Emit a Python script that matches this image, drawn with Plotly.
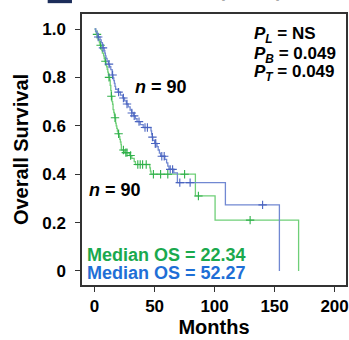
import plotly.graph_objects as go
from bisect import bisect_right

# ---------------- data ----------------
blue_t = [0, 1, 2, 3, 4.5, 5.5, 6.5, 7, 8, 8.5, 9, 9.5, 10.4, 11.5, 12.5, 13.5, 14.6,
          15.3, 16, 16.5, 17, 17.5, 19.5, 21.5, 23.5, 25, 26.5, 28, 29.6, 31, 32.5, 34,
          35.4, 38, 40.5, 47, 47.5, 48, 48.5, 50, 52, 53, 54, 55, 58.5, 60, 61, 62, 66,
          69, 109, 154]
blue_s = [1.0, 0.989, 0.978, 0.967, 0.955, 0.944, 0.933, 0.922, 0.911, 0.9, 0.889, 0.878,
          0.866, 0.855, 0.844, 0.832, 0.81, 0.798, 0.787, 0.775, 0.763, 0.751, 0.739,
          0.727, 0.715, 0.703, 0.69, 0.678, 0.665, 0.653, 0.641, 0.629, 0.617, 0.605,
          0.593, 0.579, 0.566, 0.553, 0.54, 0.527, 0.514, 0.5, 0.487, 0.474, 0.461,
          0.447, 0.433, 0.42, 0.405, 0.365, 0.273, 0.0]
blue_cens = [3, 7, 12, 15, 20, 24, 27, 31, 33, 37, 42, 44, 48.2, 50.5, 51, 56, 58, 63,
             65, 71, 79.6, 140]

green_t = [0, 0.8, 1.5, 2.5, 3, 4, 4.5, 5.5, 6, 6.5, 7.5, 8, 8.75, 9.5, 10, 10.5, 11,
           11.5, 12, 12.5, 13, 13.5, 14, 14.5, 15, 15.4, 16, 16.5, 17, 17.5, 18, 18.5,
           19, 19.6, 20.5, 21, 21.5, 22, 22.3, 25, 29, 31, 33, 34, 46, 46.5, 47, 84,
           100.4, 170]
green_s = [1.0, 0.989, 0.978, 0.967, 0.956, 0.944, 0.933, 0.922, 0.911, 0.9, 0.889,
           0.878, 0.867, 0.855, 0.844, 0.833, 0.822, 0.811, 0.8, 0.789, 0.767, 0.745,
           0.722, 0.7, 0.689, 0.667, 0.655, 0.644, 0.633, 0.611, 0.6, 0.589, 0.578,
           0.567, 0.555, 0.544, 0.533, 0.522, 0.5, 0.489, 0.477, 0.465, 0.452, 0.44,
           0.426, 0.413, 0.40, 0.31, 0.21, 0.0]
green_cens = [2, 5, 9, 12, 14, 17, 20, 24, 26, 27, 30, 36, 38, 40, 43, 49, 55, 61,
              75, 86.5, 129.6]

x_ticks = [0, 50, 100, 150, 200]
y_ticks = [0, 0.2, 0.4, 0.6, 0.8, 1.0]
y_ticklabels = ["0", "0.2", "0.4", "0.6", "0.8", "1.0"]

median_green = "22.34"
median_blue = "52.27"

# ---------------- styles ----------------
FONT = "Arial, Liberation Sans, sans-serif"
BLUE_LINE = "#7188d2"
BLUE_MARK = "#4a64c0"
GREEN_LINE = "#6fcf78"
GREEN_MARK = "#2fb04a"
BLUE_TXT = "#1f6fd6"
GREEN_TXT = "#1aa94e"


def surv_at(ts, ss, t):
    i = bisect_right(ts, t) - 1
    return ss[max(i, 0)]


fig = go.Figure()

for ts, ss, cens, lc, mc in [(green_t, green_s, green_cens, GREEN_LINE, GREEN_MARK),
                              (blue_t, blue_s, blue_cens, BLUE_LINE, BLUE_MARK)]:
    fig.add_trace(go.Scatter(x=ts, y=ss, mode="lines", line=dict(color=lc, width=1.3, shape="hv"),
                             hoverinfo="skip", showlegend=False))
    fig.add_trace(go.Scatter(x=cens, y=[surv_at(ts, ss, c) for c in cens], mode="markers",
                             marker=dict(symbol="cross-thin", size=6,
                                         line=dict(color=mc, width=1.1)),
                             showlegend=False))

ann_font = dict(family=FONT, size=18, color="black", weight="bold")
p_font = dict(family=FONT, size=17, color="black", weight="bold")
anns = [
    dict(x=0.301, y=0.73, text="<i>n</i> = 90", xanchor="center", yanchor="middle", font=ann_font),
    dict(x=0.125, y=0.35, text="<i>n</i> = 90", xanchor="center", yanchor="middle", font=ann_font),
    dict(x=0.644, y=0.9225, text="<i>P</i><sub><i>L</i></sub> = NS", xanchor="left", yanchor="middle", font=p_font),
    dict(x=0.644, y=0.849, text="<i>P</i><sub><i>B</i></sub> = 0.049", xanchor="left", yanchor="middle", font=p_font),
    dict(x=0.644, y=0.782, text="<i>P</i><sub><i>T</i></sub> = 0.049", xanchor="left", yanchor="middle", font=p_font),
    dict(x=0.012, y=0.109, text="Median OS = " + median_green, xanchor="left", yanchor="middle",
         font=dict(family=FONT, size=18, color=GREEN_TXT, weight="bold")),
    dict(x=0.012, y=0.044, text="Median OS = " + median_blue, xanchor="left", yanchor="middle",
         font=dict(family=FONT, size=18, color=BLUE_TXT, weight="bold")),
]
for a in anns:
    fig.add_annotation(xref="paper", yref="paper", showarrow=False, **a)

# cut-off header at the very top
fig.add_shape(type="rect", xref="paper", yref="paper", x0=-0.13, x1=-0.038, y0=1.04, y1=1.1,
              fillcolor="#1c2d5a", line=dict(width=0))
fig.add_annotation(xref="paper", yref="paper", x=-0.015, y=1.042, xanchor="left", yanchor="bottom",
                   showarrow=False, text="Overall survival (TCGA) cohort split p",
                   font=dict(family=FONT, size=18, color="#aaaaaa", weight="bold"))

axis_common = dict(showline=True, linecolor="#333333", linewidth=1.5, mirror=True,
                   ticks="outside", ticklen=5, tickwidth=1.2, tickcolor="#333333",
                   showgrid=False, zeroline=False, automargin=False,
                   tickfont=dict(family=FONT, size=17, color="black", weight="bold"))

fig.update_xaxes(range=[-10.5, 209.5], tickvals=x_ticks,
                 title=dict(text="Months", font=dict(family=FONT, size=20, color="black", weight="bold"),
                            standoff=4),
                 **axis_common)
fig.update_yaxes(range=[-0.058, 1.062], tickvals=y_ticks, ticktext=y_ticklabels,
                 ticklabelstandoff=6,
                 title=dict(text="Overall Survival", font=dict(family=FONT, size=20, color="black", weight="bold"),
                            standoff=8),
                 **axis_common)

fig.update_layout(width=349, height=340, margin=dict(l=82, r=3, t=14, b=55),
                  plot_bgcolor="white", paper_bgcolor="white", showlegend=False)

fig.write_html("out.html", config={"displayModeBar": False},
               post_script="document.body.style.margin='0';document.body.style.overflow='hidden';")
